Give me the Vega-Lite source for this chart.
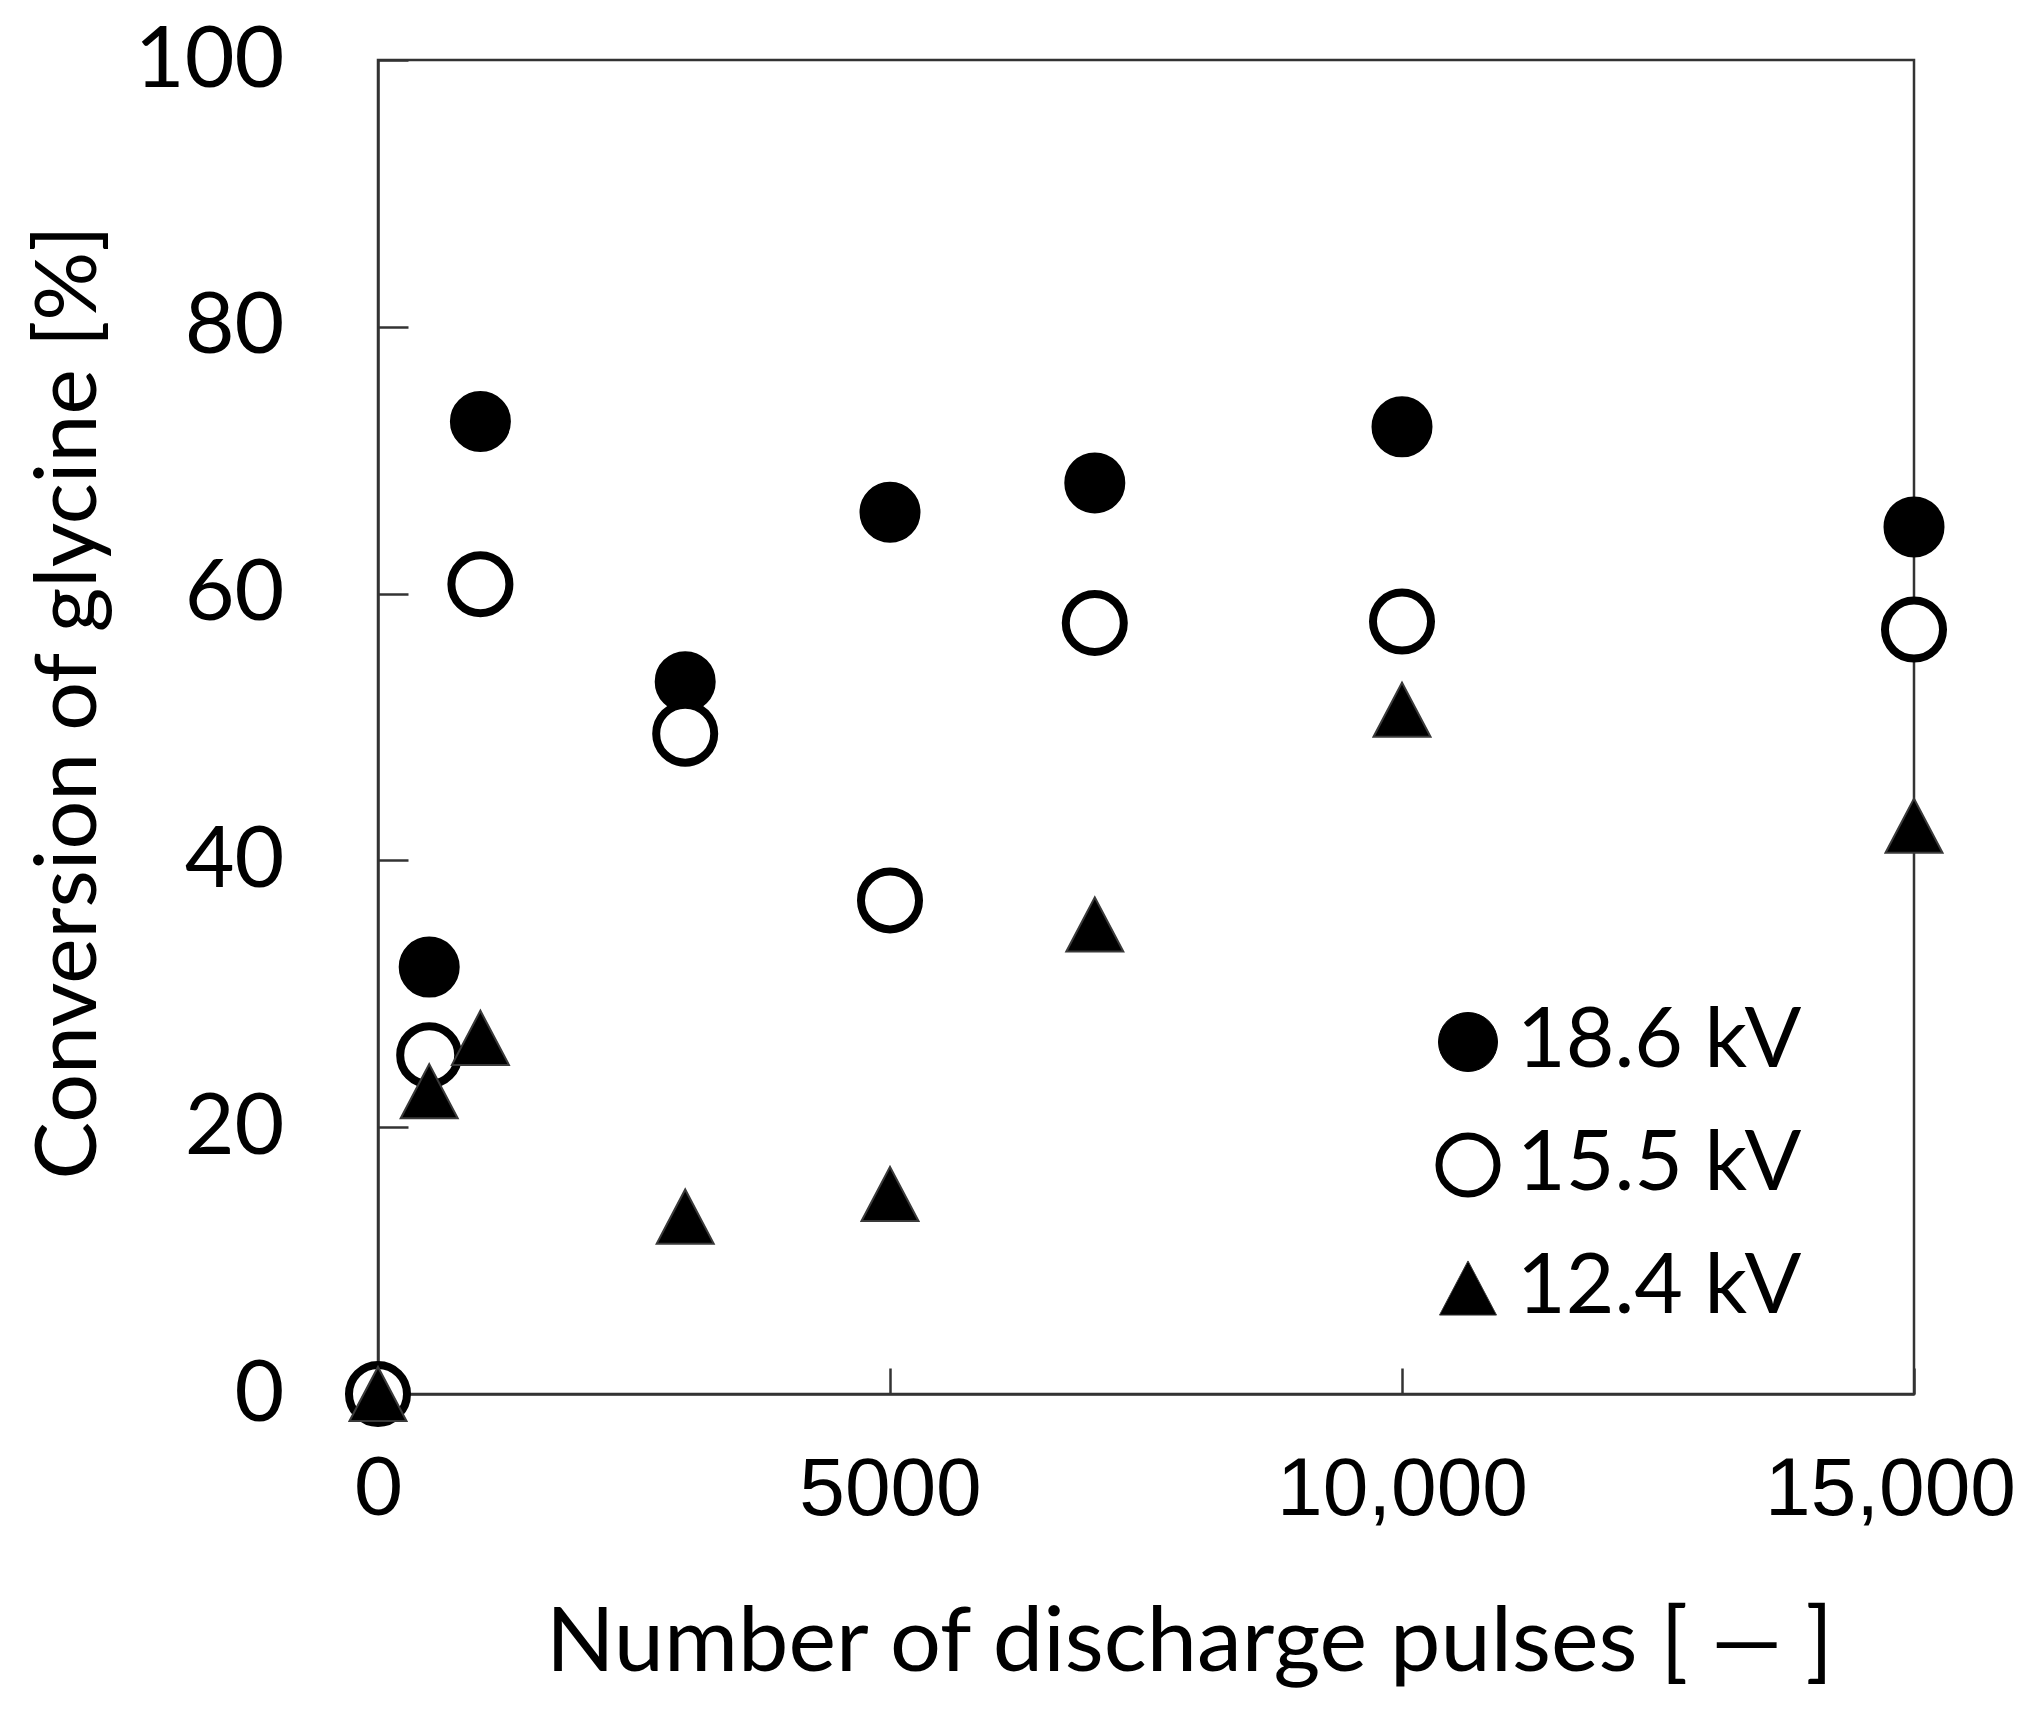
{
  "$schema": "https://vega.github.io/schema/vega-lite/v6.json",
  "width": 1536,
  "height": 1334,
  "autosize": {"type": "none"},
  "padding": {"left": 378, "top": 60, "right": 115, "bottom": 327},
  "background": "white",
  "config": {
    "font": "Lato",
    "view": {"stroke": "#333333", "strokeWidth": 2.5},
    "axis": {
      "grid": false,
      "domainColor": "#333333",
      "domainWidth": 2.5,
      "tickColor": "#333333",
      "tickWidth": 2.5,
      "labelColor": "#000000",
      "titleColor": "#000000",
      "titleFontWeight": "normal",
      "labelOverlap": false,
      "labelBound": false,
      "labelFlush": false,
      "labelLimit": 0
    }
  },
  "data": {
    "values": [
      {"voltage": "18.6 kV", "pulses": 0, "conversion": 0},
      {"voltage": "18.6 kV", "pulses": 500, "conversion": 32.0},
      {"voltage": "18.6 kV", "pulses": 1000, "conversion": 72.9},
      {"voltage": "18.6 kV", "pulses": 3000, "conversion": 53.4},
      {"voltage": "18.6 kV", "pulses": 5000, "conversion": 66.1},
      {"voltage": "18.6 kV", "pulses": 7000, "conversion": 68.3},
      {"voltage": "18.6 kV", "pulses": 10000, "conversion": 72.5},
      {"voltage": "18.6 kV", "pulses": 15000, "conversion": 65.0},
      {"voltage": "15.5 kV", "pulses": 0, "conversion": 0},
      {"voltage": "15.5 kV", "pulses": 500, "conversion": 25.4},
      {"voltage": "15.5 kV", "pulses": 1000, "conversion": 60.7},
      {"voltage": "15.5 kV", "pulses": 3000, "conversion": 49.5},
      {"voltage": "15.5 kV", "pulses": 5000, "conversion": 37.0},
      {"voltage": "15.5 kV", "pulses": 7000, "conversion": 57.8},
      {"voltage": "15.5 kV", "pulses": 10000, "conversion": 57.9},
      {"voltage": "15.5 kV", "pulses": 15000, "conversion": 57.3},
      {"voltage": "12.4 kV", "pulses": 0, "conversion": 0},
      {"voltage": "12.4 kV", "pulses": 500, "conversion": 22.7},
      {"voltage": "12.4 kV", "pulses": 1000, "conversion": 26.7},
      {"voltage": "12.4 kV", "pulses": 3000, "conversion": 13.3},
      {"voltage": "12.4 kV", "pulses": 5000, "conversion": 15.0},
      {"voltage": "12.4 kV", "pulses": 7000, "conversion": 35.2},
      {"voltage": "12.4 kV", "pulses": 10000, "conversion": 51.3},
      {"voltage": "12.4 kV", "pulses": 15000, "conversion": 42.6}
    ]
  },
  "mark": {"type": "point", "filled": true, "opacity": 1},
  "encoding": {
    "x": {
      "field": "pulses",
      "type": "quantitative",
      "scale": {"domain": [0, 15000], "nice": false},
      "axis": {
        "values": [0, 5000, 10000, 15000],
        "labelExpr": "datum.value >= 10000 ? format(datum.value, ',') : format(datum.value, 'd')",
        "labelFont": {"condition": {"test": "datum.value == 0", "value": "Lato"}, "value": "Liberation Sans"},
        "labelFontSize": 82,
        "labelPadding": 81,
        "labelOffset": {"condition": {"test": "datum.value == 15000", "value": -24}, "value": 0},
        "tickSize": -26,
        "title": "Number of discharge pulses [ — ]",
        "titleFont": "Lato",
        "titleFontSize": 90,
        "titleX": 811,
        "titleY": 276,
        "titleAlign": "center",
        "titleBaseline": "alphabetic"
      }
    },
    "y": {
      "field": "conversion",
      "type": "quantitative",
      "scale": {"domain": [0, 100], "nice": false},
      "axis": {
        "values": [0, 20, 40, 60, 80, 100],
        "labelFont": "Lato",
        "labelFontSize": 86,
        "labelPadding": 124,
        "tickSize": -30,
        "title": "Conversion of glycine [%]",
        "titleFont": "Lato",
        "titleFontSize": 86,
        "titleX": -283,
        "titleY": 642,
        "titleAlign": "center",
        "titleBaseline": "alphabetic"
      }
    },
    "shape": {
      "field": "voltage",
      "type": "nominal",
      "scale": {
        "domain": ["18.6 kV", "15.5 kV", "12.4 kV"],
        "range": ["circle", "circle", "M-1,0.95L0,-0.95L1,0.95Z"]
      },
      "legend": {
        "orient": "none",
        "legendX": 1048,
        "legendY": 940,
        "title": null,
        "padding": 0,
        "labelFont": "Lato",
        "labelFontSize": 84,
        "labelColor": "#000000",
        "labelLimit": 0,
        "labelOffset": 7,
        "rowPadding": 37,
        "symbolStrokeWidth": {"expr": "datum.value == '15.5 kV' ? 7 : 1"},
        "encode": {
          "symbols": {
            "enter": {
              "strokeWidth": {"signal": "datum.value == '15.5 kV' ? 7 : 1"}
            },
            "update": {
              "strokeWidth": {"signal": "datum.value == '15.5 kV' ? 7 : 1"}
            }
          }
        }
      }
    },
    "fill": {
      "field": "voltage",
      "type": "nominal",
      "scale": {
        "domain": ["18.6 kV", "15.5 kV", "12.4 kV"],
        "range": ["#000000", "#ffffff", "#000000"]
      }
    },
    "stroke": {
      "field": "voltage",
      "type": "nominal",
      "scale": {
        "domain": ["18.6 kV", "15.5 kV", "12.4 kV"],
        "range": ["#000000", "#000000", "#3a3a3a"]
      }
    },
    "size": {
      "field": "voltage",
      "type": "nominal",
      "scale": {
        "domain": ["18.6 kV", "15.5 kV", "12.4 kV"],
        "range": [3481, 3249, 4356]
      }
    },
    "strokeWidth": {
      "condition": {"test": "datum.voltage == '15.5 kV'", "value": 8},
      "value": 2
    }
  }
}
